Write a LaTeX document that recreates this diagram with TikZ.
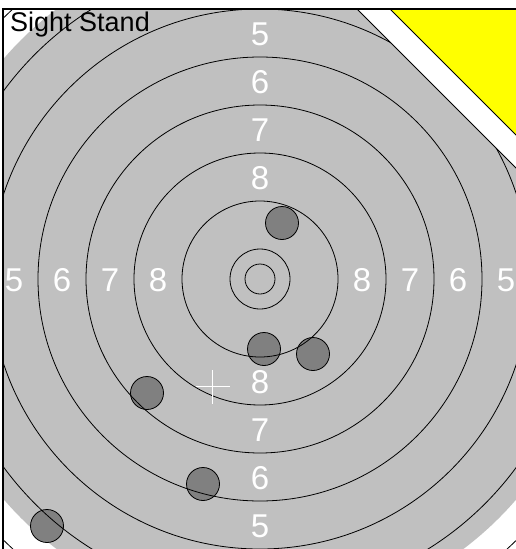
\documentclass[tikz,border=0pt]{standalone}
\usepackage{fontspec}
\setmainfont{Liberation Sans}
\usepackage{tikz}
\usetikzlibrary{
  shapes.geometric,
  calc
}
\definecolor{targetcolor}{RGB}{192, 192, 192}
\definecolor{shotcolor}{RGB}{128, 128, 128}
\definecolor{standcolor}{RGB}{255, 255, 0}
\definecolor{ringcolor}{RGB}{0, 0, 0}
\tikzset{
ringline/.style={
  draw=ringcolor,
  line width=0.8pt
},
ringlabel/.style={
  font=\fontsize{33}{33}\selectfont,
  text=white,
  inner sep=0pt
},
titlelabel/.style={
  font=\fontsize{27}{30}\selectfont,
  text=black,
  inner sep=0pt
},
shotmark/.style={
  circle,
  draw=black,
  line width=0.8pt,
  fill=shotcolor,
  minimum size=33pt,
  inner sep=0pt
},
aimcross/.style={
  draw=white,
  line width=1.3pt
},
frameline/.style={
  draw=black,
  line width=1.3pt
}
}

\begin{document}
\begin{tikzpicture}[x=1pt,y=-1pt]
  \useasboundingbox (0,0) rectangle (516,549);
  \coordinate (centre) at (260,279);
  \begin{scope}
    \clip (3,9) rectangle (516,549);
    \fill[targetcolor] (centre) circle[radius=338pt];
    % shots
    \foreach \sx/\sy [count=\i] in {282/223, 264/349, 313/354, 147/393, 203/484, 47/526}
      \node[shotmark] (shot\i) at (\sx,\sy) {};
    % rings
    \foreach \r in {15,30,78,126,174,222,270,318,366}
      \draw[ringline] (centre) circle[radius=\r pt];
    \foreach \n/\d in {8/102, 7/150, 6/198, 5/246} {
      \node[ringlabel] (top\n) at ($(centre)+(0,-\d+1.5)$) {\n};
      \node[ringlabel] (bottom\n) at ($(centre)+(0,\d+1.5)$) {\n};
      \node[ringlabel] (left\n) at ($(centre)+(-\d,1.5)$) {\n};
      \node[ringlabel] (right\n) at ($(centre)+(\d,1.5)$) {\n};
    }
    \coordinate (aim) at (212.5,386.5);
    \draw[aimcross] ([xshift=-17pt]aim) -- ([xshift=17pt]aim);
    \draw[aimcross] ([yshift=-17pt]aim) -- ([yshift=17pt]aim);
    % stand corner
    \fill[white] (357,9) -- (530,9) -- (530,182) -- cycle;
    \draw[ringline] (357,9) -- (530,182);
    \fill[standcolor] (390,9) -- (530,9) -- (530,149) -- cycle;
    \draw[ringline] (390,9) -- (530,149);
  \end{scope}
  \node[titlelabel, anchor=base west] (title) at (10,31) {Sight Stand};
  \draw[frameline] (3,549) -- (3,9) -- (516,9);
\end{tikzpicture}
\end{document}
